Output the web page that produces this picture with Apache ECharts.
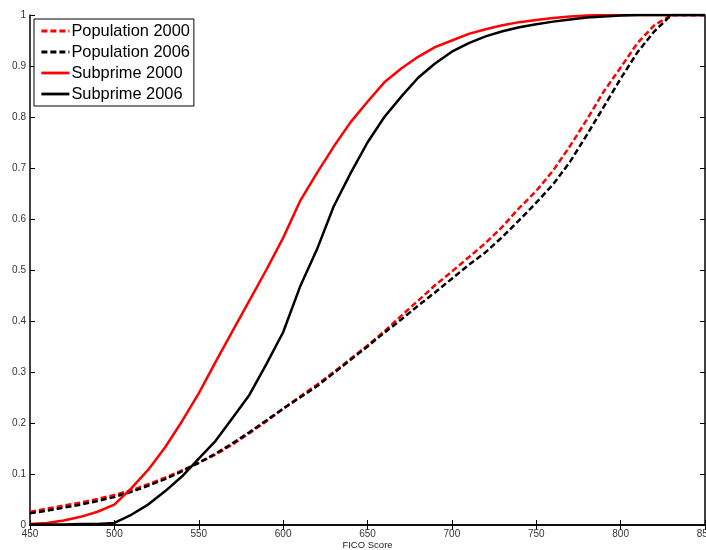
<!DOCTYPE html>
<html><head><meta charset="utf-8">
<script src="https://cdn.jsdelivr.net/npm/echarts@6/dist/echarts.min.js"></script>
<style>html,body{margin:0;padding:0;background:#fff}#c{width:706px;height:550px}</style>
</head><body><div id="c"></div>
<script>
const fico = [450,460,470,480,490,500,510,520,530,540,550,560,570,580,590,600,610,620,630,640,650,660,670,680,690,700,710,720,730,740,750,760,770,780,790,800,810,820,830,840,850];
const population2000 = [0.026,0.032,0.038,0.044,0.051,0.059,0.068,0.080,0.093,0.107,0.122,0.138,0.158,0.180,0.203,0.228,0.252,0.275,0.300,0.326,0.352,0.380,0.410,0.440,0.470,0.497,0.525,0.553,0.585,0.622,0.655,0.695,0.743,0.795,0.850,0.897,0.945,0.980,1.000,1.000,1.000];
const population2006 = [0.023,0.028,0.034,0.040,0.047,0.055,0.065,0.077,0.090,0.105,0.122,0.140,0.160,0.182,0.205,0.228,0.250,0.272,0.298,0.324,0.350,0.377,0.403,0.430,0.456,0.483,0.510,0.535,0.565,0.598,0.632,0.668,0.712,0.765,0.820,0.875,0.927,0.968,1.000,1.000,1.000];
const subprime2000 = [0.002,0.004,0.009,0.016,0.026,0.040,0.072,0.108,0.152,0.203,0.258,0.320,0.380,0.440,0.500,0.563,0.635,0.690,0.742,0.790,0.830,0.868,0.895,0.918,0.937,0.950,0.963,0.972,0.980,0.986,0.990,0.994,0.997,0.999,1.000,1.000,1.000,1.000,1.000,1.000,1.000];
const subprime2006 = [0.001,0.001,0.001,0.002,0.002,0.004,0.020,0.040,0.066,0.095,0.130,0.165,0.210,0.255,0.315,0.378,0.467,0.540,0.625,0.690,0.750,0.800,0.840,0.877,0.905,0.928,0.945,0.958,0.968,0.976,0.982,0.987,0.991,0.995,0.997,0.999,1.000,1.000,1.000,1.000,1.000];
const xTicks = {min:450, max:850, step:50};
const yTicks = {min:0, max:1, step:0.1};

const pair = arr => fico.map((x,i)=>[x,arr[i]]);
const chart = echarts.init(document.getElementById('c'), null, {renderer:'canvas'});
const font = 'Liberation Sans, Arial, Helvetica, sans-serif';
const axisLine = {show:true, lineStyle:{color:'#000', width:1.5}};
const ticks = {show:true, inside:true, length:5, lineStyle:{color:'#000', width:1}};
function line(name, data, color, dashed){
  return {name, type:'line', data:pair(data), showSymbol:false, symbol:'none', animation:false,
    lineStyle:{color, width:2.5, type: dashed ? [6,3] : 'solid'}, itemStyle:{color}, xAxisIndex:0, yAxisIndex:0};
}
chart.setOption({
  animation:false,
  backgroundColor:'#fff',
  grid:{left:30, right:1, top:15, bottom:25, containLabel:false, outerBoundsMode:'none'},
  legend:{
    left:34, top:19, orient:'vertical', backgroundColor:'#fff', borderColor:'#000', borderWidth:1,
    padding:[4,4,4,6], itemWidth:28, itemHeight:14, itemGap:5,
    itemStyle:{opacity:0},
    lineStyle:{width:2.8},
    textStyle:{fontFamily:font, fontSize:16.4, lineHeight:15, color:'#000', padding:[0,0,0,-3]},
    data:['Population 2000','Population 2006','Subprime 2000','Subprime 2006']
  },
  xAxis:[{
    type:'value', min:xTicks.min, max:xTicks.max, interval:xTicks.step, position:'bottom',
    name:'FICO Score', nameLocation:'middle', nameGap:15, nameMoveOverlap:false,
    nameTextStyle:{fontFamily:font, fontSize:9.5, color:'#222', verticalAlign:'top'},
    axisLine, axisTick:ticks, splitLine:{show:false},
    axisLabel:{fontFamily:font, fontSize:10, color:'#333', margin:4}
  },{
    type:'value', min:xTicks.min, max:xTicks.max, interval:xTicks.step, position:'top',
    axisLine, axisTick:ticks, splitLine:{show:false}, axisLabel:{show:false}
  }],
  yAxis:[{
    type:'value', min:yTicks.min, max:yTicks.max, interval:yTicks.step, position:'left',
    axisLine, axisTick:ticks, splitLine:{show:false},
    axisLabel:{fontFamily:font, fontSize:10, color:'#333', margin:4}
  },{
    type:'value', min:yTicks.min, max:yTicks.max, interval:yTicks.step, position:'right',
    axisLine, axisTick:ticks, splitLine:{show:false}, axisLabel:{show:false}
  }],
  series:[
    line('Population 2000', population2000, '#ff0000', true),
    line('Population 2006', population2006, '#000000', true),
    line('Subprime 2000', subprime2000, '#ff0000', false),
    line('Subprime 2006', subprime2006, '#000000', false)
  ]
});
</script></body></html>
